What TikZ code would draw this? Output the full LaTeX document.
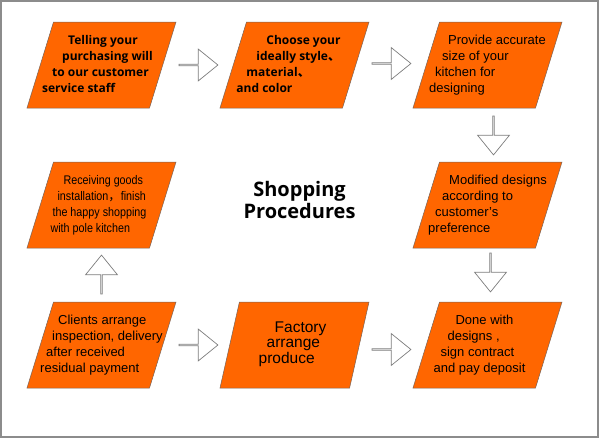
\documentclass[tikz,border=0pt]{standalone}
\usepackage{fontspec}
\usepackage{tikz}
\usetikzlibrary{positioning,shapes.geometric,shapes.arrows,calc}
\setmainfont{Liberation Sans}
\newfontfamily\headfont{Open Sans}
\newfontfamily\narrowfont[FakeStretch=0.86]{Liberation Sans}
\newfontfamily\cjk{Noto Sans CJK SC}
\definecolor{steporange}{RGB}{255,102,0}
\definecolor{steprule}{RGB}{120,100,90}
\definecolor{arrowrule}{RGB}{125,125,125}
\definecolor{framegray}{RGB}{140,140,140}
% lines of a step, set left, centred on the node with an optional shift
\newcommand\steptext[2][0pt]{\makebox[0pt]{\hspace*{#1}\begin{tabular}{@{}l@{}}#2\end{tabular}\hspace*{-#1}}}
\tikzset{
  stepbox/.style={trapezium,trapezium left angle=67.5,trapezium right angle=112.5,trapezium stretches body,
    draw=steprule,line width=0.5pt,fill=steporange,minimum width=149pt,minimum height=86pt,inner sep=0pt,
    font=\fontsize{13}{16}\selectfont},
  boldstep/.style={stepbox,font=\headfont\bfseries\fontsize{12}{16}\selectfont},
  narrowstep/.style={stepbox,font=\narrowfont\fontsize{12.5}{16}\selectfont},
  bigstep/.style={stepbox,font=\fontsize{15.5}{15.5}\selectfont},
  hollow/.style={single arrow,draw=arrowrule,line width=0.7pt,fill=white,minimum height=39pt,minimum width=32pt,
    single arrow head extend=8pt,single arrow tip angle=78,inner sep=0pt}
}

\begin{document}
\begin{tikzpicture}[x=1pt,y=-1pt,node distance=140pt and 193pt,on grid]
  \useasboundingbox (0,0) rectangle (600,439);
  \draw[framegray,line width=1.5pt] (1,1) rectangle (598,437);
  % first row
  \node[boldstep] (tell) at (101.5,65) {\steptext[-4pt]{\hspace*{26pt}Telling your\\\hspace*{20pt}purchasing will\\\hspace*{10pt}to our customer\\service staff}};
  \node[boldstep,right=of tell] (choose) {\steptext[-6pt]{\hspace*{30pt}Choose your\\\hspace*{20pt}ideally style{\cjk 、}\\\hspace*{10pt}material{\cjk 、}\\and color}};
  \node[stepbox,right=of choose] (size) {\steptext{\hspace*{19pt}Provide accurate\\\hspace*{13pt}size of your\\\hspace*{6pt}kitchen for\\designing}};
  % second row
  \node[narrowstep,below=of tell] (receive) {\steptext[-3pt]{\hspace*{13pt}Receiving goods\\\hspace*{7pt}installation{\cjk ，}finish\\\hspace*{2pt}the happy shopping\\with pole kitchen}};
  \node[font=\headfont\bfseries\fontsize{20}{21.5}\selectfont,align=center,below=of choose,xshift=5pt,yshift=5pt] (title) {Shopping\\Procedures};
  \node[stepbox,below=of size] (modify) {\steptext{\hspace*{21pt}Modified designs\\\hspace*{14pt}according to\\\hspace*{7pt}customer’s\\preference}};
  % third row
  \node[stepbox,below=of receive] (clients) {\steptext{\hspace*{18pt}Clients arrange\\\hspace*{12pt}inspection, delivery\\\hspace*{6pt}after received\\residual payment}};
  \node[bigstep,below=280pt of choose] (factory) {\steptext[-2pt]{\hspace*{16pt}Factory\\\hspace*{8pt}arrange\\produce}};
  \node[stepbox,below=of modify] (done) {\steptext[-8pt]{\hspace*{22pt}Done with\\\hspace*{14pt}designs ,\\\hspace*{7pt}sign contract\\and pay deposit}};
  % hollow arrows
  \node[hollow] (a1) at ($(tell)!0.5!(choose)$) {};
  \node[hollow] (a2) at ($(choose)!0.5!(size)+(0,-1.5)$) {};
  \node[hollow,rotate=-90] (a3) at ($(size)!0.5!(modify)+(6,0)$) {};
  \node[hollow,rotate=-90] (a4) at ($(modify)!0.5!(done)+(3,-3)$) {};
  \node[hollow,rotate=90] (a5) at ($(clients)!0.5!(receive)$) {};
  \node[hollow] (a6) at ($(clients)!0.5!(factory)$) {};
  \node[hollow] (a7) at ($(factory)!0.5!(done)+(0,4.5)$) {};
\end{tikzpicture}
\end{document}
